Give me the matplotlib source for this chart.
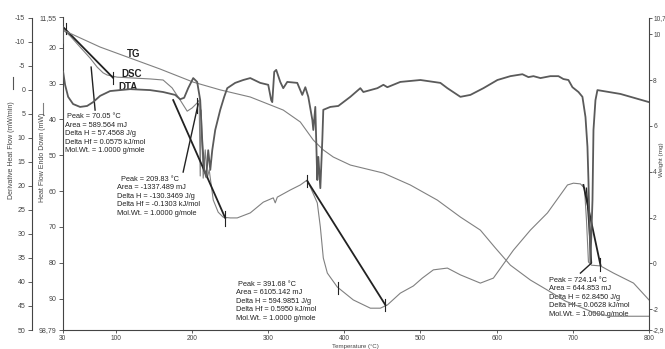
import matplotlib
matplotlib.use('Agg')
import matplotlib.pyplot as plt
from matplotlib.lines import Line2D

plt.rcParams['font.family'] = ['Liberation Sans', 'DejaVu Sans']

# ---------------- data ----------------
dta_temp = [30.8, 33.4, 37.4, 43.9, 53.1, 62.3, 70.2, 79.4, 92.5, 118.8, 145.0, 162.1, 177.9, 184.5,
            189.7, 195.0, 201.6, 206.8, 210.8, 213.4, 216.1, 218.7, 221.3, 224.0, 226.6, 230.5, 237.1,
            242.3, 246.3, 256.7, 267.3, 276.5, 289.6, 300.1, 304.0, 305.4, 308.0, 310.6, 315.9, 319.8,
            325.1, 338.2, 344.8, 348.8, 352.7, 358.0, 359.3, 361.9, 364.5, 365.9, 368.5, 371.1, 372.4,
            381.6, 392.1, 407.9, 421.0, 425.0, 443.4, 451.3, 456.5, 473.5, 499.9, 526.1, 535.3, 552.4,
            565.5, 582.6, 601.0, 618.0, 633.8, 641.7, 648.3, 657.5, 670.5, 681.1, 687.6, 694.2, 699.5,
            707.4, 712.6, 716.6, 719.2, 720.5, 723.1, 725.8, 727.1, 729.7, 732.3, 762.5, 800.0]
dta_deriv = [-3.7, -1.0, 1.5, 3.0, 3.6, 3.4, 2.6, 1.3, 0.3, -0.1, 0.1, 0.5, 1.1, 2.0, 1.7, -0.3, -2.4,
             -1.6, 2.2, 10.5, 16.7, 18.2, 12.6, 16.7, 12.6, 8.4, 4.2, 1.5, -0.3, -1.4, -2.0, -2.4, -1.4,
             -1.0, 2.2, 2.6, -3.7, -4.1, -1.6, -0.3, -1.6, -1.4, 1.1, -0.5, 1.5, 6.3, 8.4, 3.6, 18.8,
             14.0, 20.5, 10.5, 4.2, 3.6, 3.4, 1.5, -0.3, 0.5, -0.3, -1.0, -0.5, -1.6, -2.0, -1.4, -0.3,
             1.5, 1.1, -0.3, -2.0, -2.8, -3.2, -2.6, -2.8, -2.4, -2.8, -2.8, -2.2, -2.0, -0.5, 0.5, 1.5,
             5.7, 11.9, 18.8, 35.9, 23.0, 8.4, 2.2, 0.1, 0.9, 2.6]
# start-up transient of the DTA trace
dta_start_temp = [30.2, 30.2]
dta_start_deriv = [-13.0, -9.7]

dsc_temp = [30.8, 40.0, 53.1, 66.3, 75.5, 83.3, 88.6, 101.7, 118.8, 145.0, 162.1, 173.9, 184.5, 193.7,
            200.2, 206.8, 209.4, 210.8, 212.1, 214.7, 217.4, 220.0, 222.6, 227.9, 234.4, 241.0, 250.2,
            259.4, 276.5, 293.6, 306.7, 309.3, 312.0, 329.1, 342.2, 351.4, 355.4, 364.5, 368.5, 372.4,
            377.7, 390.8, 411.8, 434.2, 447.3, 456.5, 473.5, 490.6, 502.4, 516.9, 535.3, 552.4, 578.6,
            595.7, 622.0, 644.3, 666.7, 693.0, 700.8, 710.0, 715.3, 717.9, 720.5, 724.5, 736.3, 753.4,
            779.7, 800.0]
dsc_heat = [15.0, 16.7, 19.8, 22.9, 25.4, 27.0, 27.6, 28.2, 28.4, 28.7, 29.0, 31.2, 34.6, 37.7, 36.8,
            35.4, 34.6, 55.8, 37.4, 56.4, 48.5, 56.4, 54.1, 62.5, 65.9, 67.3, 67.5, 67.5, 66.1, 63.1,
            61.9, 63.3, 61.7, 59.7, 58.3, 56.9, 58.9, 63.3, 70.0, 78.7, 82.9, 86.8, 90.4, 92.7, 92.7,
            91.8, 88.5, 86.5, 84.3, 82.0, 81.5, 83.4, 85.7, 84.3, 76.5, 70.9, 66.1, 58.3, 57.8, 58.0,
            59.2, 68.1, 79.8, 80.7, 80.9, 82.9, 85.7, 90.4]

tg_temp = [30.8, 53.1, 79.4, 118.8, 158.2, 201.6, 237.1, 276.5, 319.8, 342.2, 359.3, 372.4, 385.5,
           407.9, 451.3, 486.6, 522.1, 552.4, 578.6, 598.3, 618.0, 644.3, 666.7, 690.3, 710.0, 729.7,
           749.4, 800.0]
tg_weight = [10.18, 9.84, 9.44, 8.96, 8.48, 7.91, 7.57, 7.26, 6.69, 6.17, 5.38, 4.95, 4.64, 4.29, 3.94,
             3.42, 2.76, 2.02, 1.45, 0.67, -0.08, -0.73, -1.17, -1.65, -1.91, -2.18, -2.31, -2.31]

# peak analysis constructions (temperature, heat flow)
base_lines = [((32.1, 96.5), (14.5, 28.4)),
              ((175.3, 243.6), (34.6, 67.5)),
              ((351.4, 453.9), (57.2, 91.8)),
              ((713.9, 736.3), (58.3, 80.7))]
peak_lines = [((67.6, 72.8), (25.4, 37.4)),
              ((208.1, 188.4), (35.7, 54.7)),
              ((717.9, 724.5, 710.0), (59.2, 80.1, 82.9))]
limit_ticks = [(34.1, 13.1, 16.2), (96.5, 26.8, 30.1), (243.6, 65.6, 69.8), (206.8, 34.0, 38.2),
               (351.4, 55.5, 58.9), (453.9, 90.1, 93.5), (392.1, 85.4, 88.7), (736.3, 78.7, 82.3)]

blocks = [
    (33.4, 38.3, [" Peak = 70.05 \u00b0C", "Area = 589.564 mJ", "Delta H = 57.4568 J/g",
                  "Delta Hf = 0.0575 kJ/mol", "Mol.Wt. = 1.0000 g/mole"]),
    (101.7, 55.7, ["  Peak = 209.83 \u00b0C", "Area = -1337.489 mJ", "Delta H = -130.3469 J/g",
                   "Delta Hf = -0.1303 kJ/mol", "Mol.Wt. = 1.0000 g/mole"]),
    (258.0, 85.0, [" Peak = 391.68 \u00b0C", "Area = 6105.142 mJ", "Delta H = 594.9851 J/g",
                   "Delta Hf = 0.5950 kJ/mol", "Mol.Wt. = 1.0000 g/mole"]),
    (669.2, 83.9, ["Peak = 724.14 \u00b0C", "Area = 644.853 mJ", "Delta H = 62.8450 J/g",
                   "Delta Hf = 0.0628 kJ/mol", "Mol.Wt. = 1.0000 g/mole"]),
]
curve_names = [("TG", 122.9, 21.8), ("DSC", 121.4, 27.2), ("DTA", 116.2, 31.0)]

x_ticks = [30, 100, 200, 300, 400, 500, 600, 700, 800]
heat_ticks = [11.55, 20, 30, 40, 50, 60, 70, 80, 90, 98.79]
heat_labels = ["11,55", "20", "30", "40", "50", "60", "70", "80", "90", "98,79"]
deriv_ticks = [-15, -10, -5, 0, 5, 10, 15, 20, 25, 30, 35, 40, 45, 50]
weight_ticks = [10.73, 10, 8, 6, 4, 2, 0, -2, -2.91]
weight_labels = ["10,7", "10", "8", "6", "4", "2", "0", "-2", "-2,9"]

# ---------------- figure ----------------
W, H = 665, 349
fig = plt.figure(figsize=(W / 100, H / 100), dpi=100)
L, R, T, B = 62.5, 649, 17.5, 330
ax = fig.add_axes([L / W, 1 - B / H, (R - L) / W, (B - T) / H])
axw = ax.twinx()
axd = ax.twinx()

axc = '#444444'
for a in (ax, axw, axd):
    for s in a.spines.values():
        s.set_visible(False)
        s.set_color(axc)
        s.set_linewidth(0.8)
    a.tick_params(direction='out', length=3, width=0.6, colors=axc, labelsize=5, pad=1.5)
axw.tick_params(length=2, pad=1, labelsize=4.8)
ax.tick_params(axis='x', length=2.5, pad=1, labelsize=4.8)

ax.spines['left'].set_visible(True)
ax.spines['bottom'].set_visible(True)
axw.spines['right'].set_visible(True)
axd.spines['left'].set_visible(True)
axd.spines['left'].set_position(('axes', (31.5 - L) / (R - L)))
axd.yaxis.set_ticks_position('left')
axd.yaxis.set_label_position('left')

ax.set_xlim(30, 800)
ax.set_ylim(98.79, 11.55)
axw.set_ylim(-2.91, 10.73)
axd.set_ylim(50, -15)

ax.set_xticks(x_ticks)
ax.set_xticklabels([str(v) for v in x_ticks])
ax.set_yticks(heat_ticks)
ax.set_yticklabels(heat_labels)
axw.set_yticks(weight_ticks)
axw.set_yticklabels(weight_labels)
axd.set_yticks(deriv_ticks)
axd.set_yticklabels([str(v) for v in deriv_ticks])

curve_grey = '#808080'
axd.plot(dta_temp, dta_deriv, color='#5a5a5a', lw=1.3, solid_joinstyle='round')
axd.plot(dta_start_temp, dta_start_deriv, color='#5a5a5a', lw=1.3)
ax.plot(dsc_temp, dsc_heat, color=curve_grey, lw=0.8)
axw.plot(tg_temp, tg_weight, color=curve_grey, lw=0.8)

ink = '#222222'
for xs, ys in base_lines:
    ax.plot(xs, ys, color=ink, lw=1.3)
for xs, ys in peak_lines:
    ax.plot(xs, ys, color=ink, lw=1.0)
for tx, y0, y1 in limit_ticks:
    ax.plot([tx, tx], [y0, y1], color=ink, lw=0.8)

for bx, by, lines in blocks:
    ax.text(bx, by, "\n".join(lines), fontsize=5.3, va='top', ha='left',
            linespacing=1.3, color='#222222')
for name, nx, ny in curve_names:
    ax.text(nx, ny, name, fontsize=7, fontweight='bold', ha='center', va='center', color='#222222')

# axis titles
fig.text(12 / W, 1 - 150 / H, 'Derivative Heat Flow (mW/min)', rotation=90, fontsize=5,
         ha='center', va='center', color=axc)
fig.add_artist(Line2D([13 / W, 13 / W], [1 - 77 / H, 1 - 89 / H], color='#555555', lw=0.8))
fig.text(42 / W, 1 - 157 / H, 'Heat Flow Endo Down (mW)', rotation=90, fontsize=5,
         ha='center', va='center', color=axc)
fig.add_artist(Line2D([43 / W, 43 / W], [1 - 103 / H, 1 - 115 / H], color='#808080', lw=0.8))
fig.text(661 / W, 1 - 160 / H, 'Weight (mg)', rotation=90, fontsize=4.6,
         ha='center', va='center', color=axc)
fig.text(355 / W, 1 - 346.3 / H, 'Temperature (\u00b0C)', fontsize=4.4,
         ha='center', va='center', color=axc)

fig.savefig('out.png', dpi=100)
